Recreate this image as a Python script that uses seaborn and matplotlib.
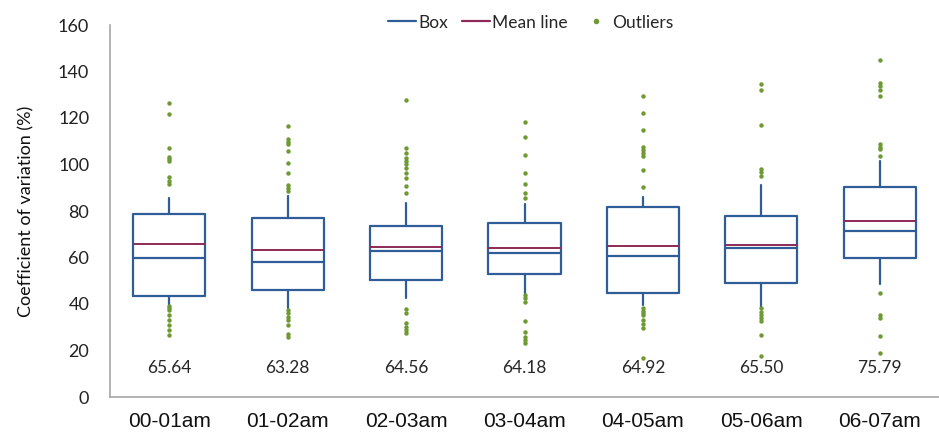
import pandas as pd
import matplotlib.pyplot as plt
from matplotlib.lines import Line2D
import seaborn as sns

# hourly categories and box statistics
hours = ["00-01am", "01-02am", "02-03am", "03-04am", "04-05am", "05-06am", "06-07am"]
q1 = [43.6, 46.0, 50.3, 52.7, 44.6, 48.9, 59.6]
median = [59.8, 58.0, 62.8, 61.8, 60.8, 64.2, 71.4]
q3 = [78.8, 76.8, 73.5, 74.7, 81.9, 77.8, 90.5]
whisker_low = [39.6, 38.1, 42.4, 44.2, 39.6, 38.8, 48.5]
whisker_high = [85.4, 86.5, 83.6, 82.8, 86.2, 91.2, 101.5]
means = [65.64, 63.28, 64.56, 64.18, 64.92, 65.50, 75.79]

outliers = [
    [126.6, 121.7, 107.2, 103.4, 102.4, 101.6, 94.5, 93.0, 91.6,
     39.1, 38.1, 37.4, 35.3, 33.1, 31.0, 28.8, 26.7],
    [116.7, 111.0, 109.5, 108.8, 105.9, 100.8, 96.5, 91.2, 89.7, 88.6,
     37.4, 36.0, 34.5, 33.1, 31.0, 27.1, 25.7],
    [127.7, 107.0, 104.8, 103.0, 101.6, 100.2, 98.3, 96.5, 94.1, 90.9, 87.6,
     37.7, 36.3, 31.7, 30.2, 28.8, 27.4],
    [118.1, 112.0, 104.1, 96.5, 91.6, 87.9, 85.4,
     43.9, 42.4, 41.0, 32.7, 28.1, 25.9, 24.5, 23.4],
    [129.6, 122.0, 114.8, 107.7, 106.2, 104.8, 103.7, 97.6, 90.2,
     38.1, 37.1, 36.3, 35.3, 33.1, 31.3, 29.8, 16.6],
    [134.6, 132.0, 117.0, 98.0, 96.9, 95.2,
     38.1, 36.7, 35.3, 33.8, 32.7, 26.7, 17.8],
    [145.0, 135.2, 133.8, 132.0, 129.5, 108.7, 107.7, 106.5, 103.7,
     44.6, 35.3, 34.1, 26.2, 18.8],
]

BOX_COLOR = "#2f5d97"
MEAN_COLOR = "#8e2a57"
OUT_COLOR = "#6e9a33"
AXIS_COLOR = "#a6a6a6"

sns.set_style("white")
plt.rcParams["font.family"] = ["Lato", "DejaVu Sans"]

fig = plt.figure(figsize=(9.39, 4.34), dpi=100)
ax = fig.add_axes([110 / 939, 37 / 434, 829 / 939, 372 / 434])

# outliers through seaborn on the categorical axis
out_df = pd.DataFrame(
    [(h, v) for h, vals in zip(hours, outliers) for v in vals],
    columns=["hour", "cv"],
)
sns.stripplot(data=out_df, x="hour", y="cv", order=hours, jitter=False,
              color=OUT_COLOR, size=3.2, linewidth=0, ax=ax, zorder=3)

# boxes from the summary statistics
stats = []
for i, h in enumerate(hours):
    stats.append(dict(label=h, q1=q1[i], med=median[i], q3=q3[i],
                      whislo=whisker_low[i], whishi=whisker_high[i],
                      mean=means[i], fliers=[]))
ax.bxp(stats, positions=range(len(hours)), widths=0.61,
       showmeans=True, meanline=True, showcaps=False, showfliers=False,
       boxprops=dict(color=BOX_COLOR, linewidth=1.6),
       whiskerprops=dict(color=BOX_COLOR, linewidth=1.6),
       medianprops=dict(color=BOX_COLOR, linewidth=1.6),
       meanprops=dict(color=MEAN_COLOR, linewidth=1.4, linestyle="-"),
       manage_ticks=False)

# mean value labels under each box
for i, m in enumerate(means):
    ax.text(i, 12.5, f"{m:.2f}", ha="center", va="center",
            fontsize=12.5, color="#262626")

ax.set_ylim(0, 160)
ax.set_yticks(range(0, 161, 20))
ax.set_xlim(-0.5, 6.41)
ax.set_xticks(range(len(hours)))
ax.set_xticklabels(hours, fontsize=15, family=["Liberation Sans", "DejaVu Sans"])
ax.set_xticks([i + 0.5 for i in range(-1, len(hours))], minor=True)
ax.tick_params(axis="x", which="major", length=0, pad=11, colors="#111111")
ax.tick_params(axis="x", which="minor", length=6, color=AXIS_COLOR, width=1)
ax.tick_params(axis="y", length=6, color=AXIS_COLOR, width=1, pad=9,
               labelsize=13, labelcolor="#222222")
ax.set_xlabel("")
ax.set_ylabel("Coefficient of variation (%)", fontsize=13, color="#111111",
              labelpad=17)

for side in ["top", "right"]:
    ax.spines[side].set_visible(False)
for side in ["left", "bottom"]:
    ax.spines[side].set_color(AXIS_COLOR)
    ax.spines[side].set_linewidth(1.2)

handles = [
    Line2D([], [], color=BOX_COLOR, linewidth=1.6),
    Line2D([], [], color=MEAN_COLOR, linewidth=1.6),
    Line2D([], [], color=OUT_COLOR, linestyle="", marker="o", markersize=3),
]
fig.legend(handles, ["Box", "Mean line", "Outliers"], ncol=3, frameon=False,
           loc="center", bbox_to_anchor=(0.565, 0.948), fontsize=12.5,
           handlelength=1.6, handletextpad=0.15, columnspacing=0.8)

fig.savefig("out.png", dpi=100)
